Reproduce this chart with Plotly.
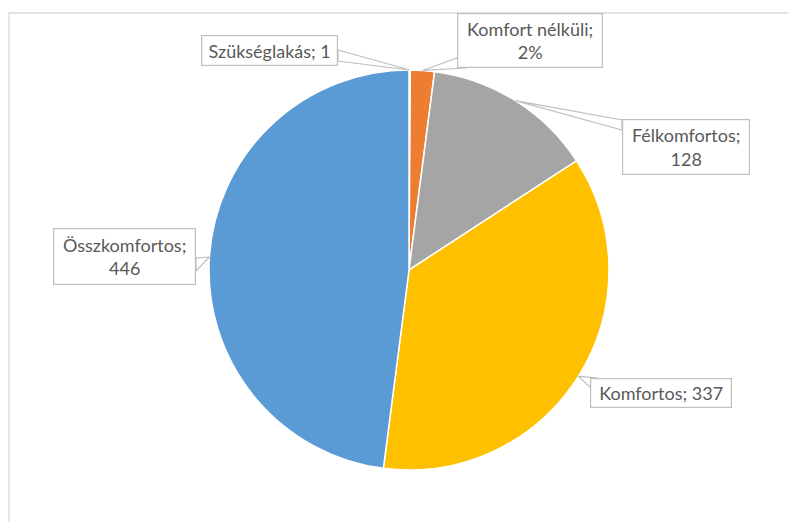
import math
import plotly.graph_objects as go

# ---- data ----
categories = ["Szükséglakás", "Komfort nélküli", "Félkomfortos", "Komfortos", "Összkomfortos"]
values = [1, 18, 128, 337, 446]
show_percent = [False, True, False, False, False]
colors = ["#4472C4", "#ED7D31", "#A5A5A5", "#FFC000", "#5B9BD5"]

W, H = 796, 522
OFF = 8  # page body margin
CX, CY, R = 409, 270, 200  # pie centre / radius in screen px

# label box layout (screen px): left, top, width, height, pointer base points
boxes = [
    dict(l=201, t=35, w=137, h=31, base=[(338, 50), (338, 61)]),
    dict(l=457, t=13, w=146, h=55, base=[(457, 58), (466, 68)]),
    dict(l=622, t=119, w=128, h=56, base=[(622, 120), (622, 130)]),
    dict(l=590, t=378, w=142, h=30, base=[(590, 387), (597, 378)]),
    dict(l=53, t=228, w=143, h=57, base=[(196, 258), (196, 271)]),
]

def px(x):
    return (x - OFF) / W

def py(y):
    return 1 - (y - OFF) / H

total = sum(values)
fig = go.Figure()
fig.add_trace(go.Pie(
    labels=categories, values=values, sort=False, direction="clockwise",
    rotation=0, textinfo="none", hoverinfo="label+value+percent",
    marker=dict(colors=colors, line=dict(color="white", width=1.5)),
    domain=dict(x=[px(CX - R), px(CX + R)], y=[py(CY + R), py(CY - R)]),
    showlegend=False,
))

shapes = [dict(type="rect", xref="paper", yref="paper",
               x0=px(9), x1=px(W + 40), y0=py(H + 40), y1=py(13),
               line=dict(color="#D9D9D9", width=1.3), fillcolor="rgba(0,0,0,0)",
               layer="below")]
annotations = []
cum = 0
for cat, v, pct, b in zip(categories, values, show_percent, boxes):
    mid = (cum + v / 2) / total * 2 * math.pi
    cum += v
    tx = CX + R * math.sin(mid)
    ty = CY - R * math.cos(mid)
    (bx1, by1), (bx2, by2) = b["base"]
    path = f"M {px(tx)} {py(ty)} L {px(bx1)} {py(by1)} L {px(bx2)} {py(by2)} Z"
    shapes.append(dict(type="path", xref="paper", yref="paper", path=path,
                       fillcolor="white", line=dict(color="#BFBFBF", width=1.2),
                       layer="above"))
    valtxt = f"{round(v / total * 100)}%" if pct else f"{v}"
    if b["h"] > 40:
        text = f"{cat};<br>{valtxt}"
    else:
        text = f"{cat}; {valtxt}"
    annotations.append(dict(
        xref="paper", yref="paper", x=px(b["l"]), y=py(b["t"]),
        xanchor="left", yanchor="top", width=b["w"] - 2, height=b["h"] - 2,
        text=text, showarrow=False, align="center", valign="middle",
        bgcolor="white", bordercolor="#BFBFBF", borderwidth=1.2, borderpad=0,
        font=dict(family="Lato", size=18, color="#595959"),
    ))

fig.update_layout(
    width=W, height=H, margin=dict(l=0, r=0, t=0, b=0),
    paper_bgcolor="white", plot_bgcolor="white",
    shapes=shapes, annotations=annotations,
)
fig.write_html("out.html")
